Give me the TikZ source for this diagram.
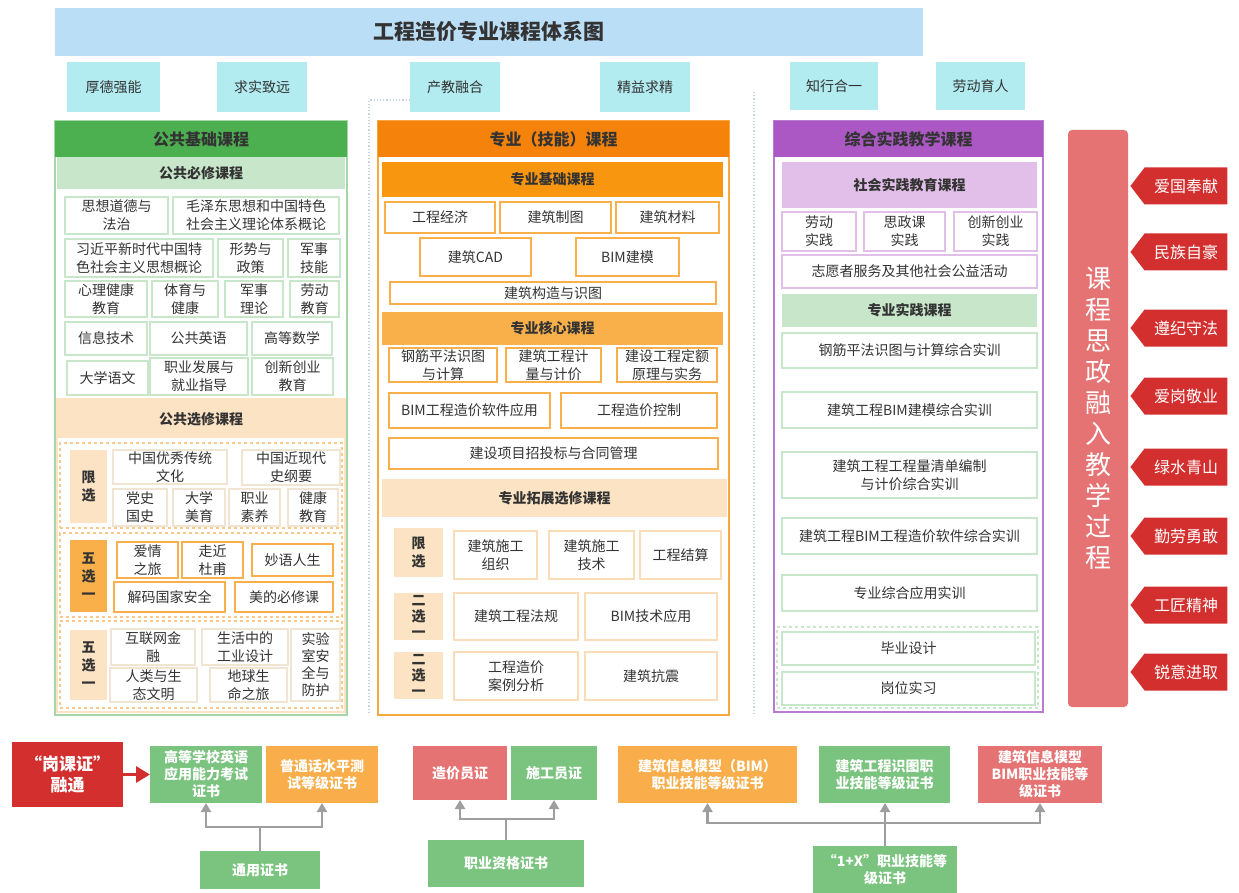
\documentclass[tikz,border=0pt]{standalone}
\usepackage{fontspec}
\setmainfont{Noto Sans CJK SC}
\usetikzlibrary{arrows.meta,shapes.symbols}
\definecolor{titlebg}{HTML}{BBDEF7}
\definecolor{valbg}{HTML}{B2EBF0}
\definecolor{gdark}{HTML}{4CAF50}
\definecolor{glight}{HTML}{C8E6C9}
\definecolor{gborder}{HTML}{A5D6A7}
\definecolor{ohead}{HTML}{F5820B}
\definecolor{oband}{HTML}{F9960F}
\definecolor{oband2}{HTML}{F9B04B}
\definecolor{opeach}{HTML}{FCE3C3}
\definecolor{oborder}{HTML}{F7A93F}
\definecolor{odash}{HTML}{F9C98A}
\definecolor{lboxc}{HTML}{F2E4D2}
\definecolor{pboxc}{HTML}{FADCB6}
\definecolor{phead}{HTML}{AB58C4}
\definecolor{pband}{HTML}{E2BFE8}
\definecolor{pborder}{HTML}{B87BCF}
\definecolor{redtag}{HTML}{D32F2F}
\definecolor{redbar}{HTML}{E57373}
\definecolor{certg}{HTML}{7BC47F}
\definecolor{certo}{HTML}{F9AE4B}
\definecolor{certr}{HTML}{E57373}
\definecolor{conn}{HTML}{9E9E9E}
\definecolor{txt}{HTML}{333333}
\definecolor{dotc}{HTML}{C9D3DA}
\newcommand\bx[7]{\node[#2,minimum width={(#5-#3)*1pt},minimum height={(#6-#4)*1pt}] (#1) at ({(#3+#5)/2},{-(#4+#6)/2}) {#7};}
\begin{document}
\begin{tikzpicture}[x=1pt,y=1pt,
  every node/.style={inner sep=0pt,outer sep=0pt,align=center,text=txt,font=\fontsize{14}{18}\selectfont},
  titlebox/.style={fill=titlebg,font=\fontsize{21}{24}\selectfont\bfseries},
  valbox/.style={fill=valbg},
  headfont/.style={font=\fontsize{16}{19}\selectfont\bfseries},
  bandfont/.style={font=\fontsize{14}{18}\selectfont\bfseries},
  gbox/.style={draw=glight,line width=1.5pt,fill=white},
  lbox/.style={draw=lboxc,line width=1.2pt,fill=white},
  obox/.style={draw=oband2,line width=1.5pt,fill=white},
  pbox/.style={draw=pboxc,line width=1.2pt,fill=white},
  prbox/.style={draw=pband,line width=1.5pt,fill=white},
  dgroup/.style={draw=odash,dashed,line width=1.2pt},
  labp/.style={fill=opeach,font=\fontsize{14}{18}\selectfont\bfseries},
  labo/.style={fill=oband2,font=\fontsize{14}{18}\selectfont\bfseries},
  tag/.style={signal,signal to=west,signal pointer angle=105,fill=redtag,text=white,minimum width=97pt,minimum height=37pt,font=\fontsize{16}{18}\selectfont},
  cert/.style={text=white,font=\fontsize{14}{17}\selectfont\bfseries},
  garrow/.style={draw=conn,line width=2.5pt,-{Triangle[length=9pt,width=10pt]}},
  gline/.style={draw=conn,line width=2.5pt},
  dotline/.style={draw=dotc,line width=1.2pt,dotted}]
\useasboundingbox (0,0) rectangle (1239,-893);
% dotted separators
\draw[dotline] (410,-100) -- (369,-100) -- (369,-715);
\draw[dotline] (754,-92) -- (754,-715);
% title and values
\bx{title}{titlebox}{55}{8}{923}{56}{工程造价专业课程体系图}
\bx{v1}{valbox}{67}{62}{160}{112}{厚德强能}
\bx{v2}{valbox}{217}{62}{307}{112}{求实致远}
\bx{v3}{valbox}{410}{62}{500}{112}{产教融合}
\bx{v4}{valbox}{600}{62}{690}{112}{精益求精}
\bx{v5}{valbox}{790}{62}{878}{110}{知行合一}
\bx{v6}{valbox}{936}{62}{1025}{110}{劳动育人}
% ===== left column
\bx{lcol}{draw=gborder,line width=1.5pt,fill=white}{55}{121}{347}{715}{}
\bx{lhead}{fill=gdark,headfont}{55}{121}{347}{157}{公共基础课程}
\bx{lsub}{fill=glight,bandfont}{57}{157}{345}{189}{公共必修课程}
\bx{l1}{gbox}{65}{197}{168}{234}{思想道德与\\法治}
\bx{l2}{gbox}{173}{197}{339}{234}{毛泽东思想和中国特色\\社会主义理论体系概论}
\bx{l3}{gbox}{65}{239}{213}{277}{习近平新时代中国特\\色社会主义思想概论}
\bx{l4}{gbox}{218}{239}{283}{277}{形势与\\政策}
\bx{l5}{gbox}{288}{239}{340}{277}{军事\\技能}
\bx{l6}{gbox}{65}{281}{147}{317}{心理健康\\教育}
\bx{l7}{gbox}{152}{281}{218}{317}{体育与\\健康}
\bx{l8}{gbox}{225}{281}{283}{317}{军事\\理论}
\bx{l9}{gbox}{290}{281}{339}{317}{劳动\\教育}
\bx{l10}{gbox}{65}{322}{147}{355}{信息技术}
\bx{l11}{gbox}{150}{322}{247}{355}{公共英语}
\bx{l12}{gbox}{252}{322}{332}{355}{高等数学}
\bx{l13}{gbox}{67}{361}{148}{395}{大学语文}
\bx{l14}{gbox}{150}{358}{248}{395}{职业发展与\\就业指导}
\bx{l15}{gbox}{252}{358}{333}{395}{创新创业\\教育}
\bx{lsel}{draw=opeach,line width=1.2pt}{57}{399}{345}{712}{}
\bx{lselh}{fill=opeach,bandfont}{57}{400}{345}{438}{公共选修课程}
\bx{lg1}{dgroup}{60}{443}{342}{528}{}
\bx{lg2}{dgroup}{60}{533}{342}{617}{}
\bx{lg3}{dgroup}{60}{621}{342}{708}{}
\bx{lx1}{labp}{70}{450}{107}{523}{限\\选}
\bx{e1}{lbox}{113}{450}{227}{484}{中国优秀传统\\文化}
\bx{e2}{lbox}{242}{450}{340}{485}{中国近现代\\史纲要}
\bx{e3}{lbox}{113}{489}{167}{526}{党史\\国史}
\bx{e4}{lbox}{173}{489}{225}{526}{大学\\美育}
\bx{e5}{lbox}{229}{489}{280}{526}{职业\\素养}
\bx{e6}{lbox}{288}{489}{338}{526}{健康\\教育}
\bx{lx2}{labo}{70}{540}{107}{612}{五\\选\\一}
\bx{e7}{obox}{117}{542}{178}{578}{爱情\\之旅}
\bx{e8}{obox}{182}{542}{243}{578}{走近\\杜甫}
\bx{e9}{obox}{252}{544}{333}{576}{妙语人生}
\bx{e10}{obox}{114}{582}{225}{612}{解码国家安全}
\bx{e11}{obox}{235}{582}{333}{612}{美的必修课}
\bx{lx3}{labp}{70}{630}{107}{700}{五\\选\\一}
\bx{e12}{lbox}{111}{629}{195}{665}{互联网金\\融}
\bx{e13}{lbox}{202}{629}{288}{665}{生活中的\\工业设计}
\bx{e14}{lbox,font=\fontsize{14}{17}\selectfont}{291}{629}{340}{701}{实验\\室安\\全与\\防护}
\bx{e15}{lbox}{110}{668}{197}{702}{人类与生\\态文明}
\bx{e16}{lbox}{210}{668}{287}{702}{地球生\\命之旅}
% ===== middle column
\bx{mcol}{draw=oborder,line width=1.5pt,fill=white}{378}{121}{729}{715}{}
\bx{mhead}{fill=ohead,headfont}{378}{121}{729}{157}{专业（技能）课程}
\bx{mb1}{fill=oband,bandfont}{382}{162}{723}{197}{专业基础课程}
\bx{m1}{obox}{385}{202}{495}{233}{工程经济}
\bx{m2}{obox}{500}{202}{611}{233}{建筑制图}
\bx{m3}{obox}{616}{202}{719}{233}{建筑材料}
\bx{m4}{obox}{420}{238}{531}{276}{建筑CAD}
\bx{m5}{obox}{576}{238}{679}{276}{BIM建模}
\bx{m6}{obox}{390}{282}{716}{304}{建筑构造与识图}
\bx{mb2}{fill=oband2,bandfont}{382}{312}{723}{345}{专业核心课程}
\bx{m7}{obox}{389}{348}{497}{382}{钢筋平法识图\\与计算}
\bx{m8}{obox}{506}{348}{601}{382}{建筑工程计\\量与计价}
\bx{m9}{obox}{617}{348}{717}{382}{建设工程定额\\原理与实务}
\bx{m10}{obox}{389}{393}{550}{428}{BIM工程造价软件应用}
\bx{m11}{obox}{561}{393}{717}{428}{工程造价控制}
\bx{m12}{obox}{389}{438}{718}{469}{建设项目招投标与合同管理}
\bx{mb3}{fill=opeach,bandfont}{382}{479}{727}{517}{专业拓展选修课程}
\bx{ml1}{labp}{394}{528}{443}{577}{限\\选}
\bx{m13}{pbox}{454}{531}{537}{579}{建筑施工\\组织}
\bx{m14}{pbox}{549}{531}{634}{579}{建筑施工\\技术}
\bx{m15}{pbox}{640}{531}{721}{579}{工程结算}
\bx{ml2}{labp,font=\fontsize{14}{16}\selectfont\bfseries}{394}{593}{443}{640}{二\\选\\一}
\bx{m16}{pbox}{454}{593}{578}{640}{建筑工程法规}
\bx{m17}{pbox}{585}{593}{717}{640}{BIM技术应用}
\bx{ml3}{labp,font=\fontsize{14}{16}\selectfont\bfseries}{394}{652}{443}{699}{二\\选\\一}
\bx{m18}{pbox}{454}{652}{578}{700}{工程造价\\案例分析}
\bx{m19}{pbox}{585}{652}{717}{700}{建筑抗震}
% ===== right column
\bx{rcol}{draw=pborder,line width=1.5pt,fill=white}{774}{121}{1043}{712}{}
\bx{rhead}{fill=phead,headfont}{774}{121}{1043}{157}{综合实践教学课程}
\bx{rb1}{fill=pband,bandfont}{782}{162}{1037}{208}{社会实践教育课程}
\bx{r1}{prbox}{782}{212}{856}{251}{劳动\\实践}
\bx{r2}{prbox}{864}{212}{945}{251}{思政课\\实践}
\bx{r3}{prbox}{954}{212}{1037}{251}{创新创业\\实践}
\bx{r4}{prbox}{782}{255}{1037}{288}{志愿者服务及其他社会公益活动}
\bx{rb2}{fill=glight,bandfont}{782}{294}{1037}{327}{专业实践课程}
\bx{r5}{gbox}{782}{333}{1037}{368}{钢筋平法识图与计算综合实训}
\bx{r6}{gbox}{782}{392}{1037}{428}{建筑工程BIM建模综合实训}
\bx{r7}{gbox}{782}{452}{1037}{498}{建筑工程工程量清单编制\\与计价综合实训}
\bx{r8}{gbox}{782}{518}{1037}{554}{建筑工程BIM工程造价软件综合实训}
\bx{r9}{gbox}{782}{575}{1037}{611}{专业综合应用实训}
\bx{rg}{draw=glight,dashed,line width=1.2pt}{777}{627}{1038}{708}{}
\bx{r10}{gbox}{782}{632}{1035}{665}{毕业设计}
\bx{r11}{gbox}{782}{672}{1035}{705}{岗位实习}
% ===== side bar and tags
\bx{rbar}{fill=redbar,rounded corners=4pt,text=white,font=\fontsize{26}{31}\selectfont}{1068}{130}{1128}{707}{课\\程\\思\\政\\融\\入\\教\\学\\过\\程}
\node[tag] (t1) at (1186,-186) {爱国奉献};
\node[tag] (t2) at (1186,-252) {民族自豪};
\node[tag] (t3) at (1186,-328) {遵纪守法};
\node[tag] (t4) at (1186,-396) {爱岗敬业};
\node[tag] (t5) at (1186,-467) {绿水青山};
\node[tag] (t6) at (1186,-536) {勤劳勇敢};
\node[tag] (t7) at (1186,-605) {工匠精神};
\node[tag] (t8) at (1186,-672) {锐意进取};
% ===== certificates
\bx{gkz}{fill=redtag,cert,font=\fontsize{17}{21}\selectfont\bfseries}{12}{742}{123}{807}{“岗课证”\\融通}
\bx{c1}{fill=certg,cert}{150}{746}{262}{803}{高等学校英语\\应用能力考试\\证书}
\bx{c2}{fill=certo,cert}{266}{746}{378}{803}{普通话水平测\\试等级证书}
\bx{gen}{fill=certg,cert}{200}{851}{320}{889}{通用证书}
\bx{c3}{fill=certr,cert}{413}{746}{507}{800}{造价员证}
\bx{c4}{fill=certg,cert}{511}{746}{597}{800}{施工员证}
\bx{zyzg}{fill=certg,cert}{428}{840}{584}{887}{职业资格证书}
\bx{c5}{fill=certo,cert}{618}{746}{797}{803}{建筑信息模型（BIM）\\职业技能等级证书}
\bx{c6}{fill=certg,cert}{819}{746}{950}{803}{建筑工程识图职\\业技能等级证书}
\bx{c7}{fill=certr,cert}{978}{746}{1102}{803}{建筑信息模型\\BIM职业技能等\\级证书}
\bx{onex}{fill=certg,cert}{813}{846}{957}{893}{“1+X”职业技能等\\级证书}
\coordinate (h1) at (0,-827);
\coordinate (h2) at (0,-819);
\coordinate (h3) at (0,-823);
\draw[draw=redtag,line width=3pt,-{Triangle[length=14pt,width=16pt]}] (gkz.east) -- (c1.west);
\draw[gline] (gen.north) -- (gen.north |- h1);
\draw[garrow] (gen.north |- h1) -| (c1.south);
\draw[garrow] (gen.north |- h1) -| (c2.south);
\draw[gline] (zyzg.north) -- (zyzg.north |- h2);
\draw[garrow] (zyzg.north |- h2) -| (c3.south);
\draw[garrow] (zyzg.north |- h2) -| (c4.south);
\draw[garrow] (onex.north) -- (onex.north |- c6.south);
\draw[garrow] (onex.north |- h3) -| (c5.south);
\draw[garrow] (onex.north |- h3) -| (c7.south);
\end{tikzpicture}
\end{document}
